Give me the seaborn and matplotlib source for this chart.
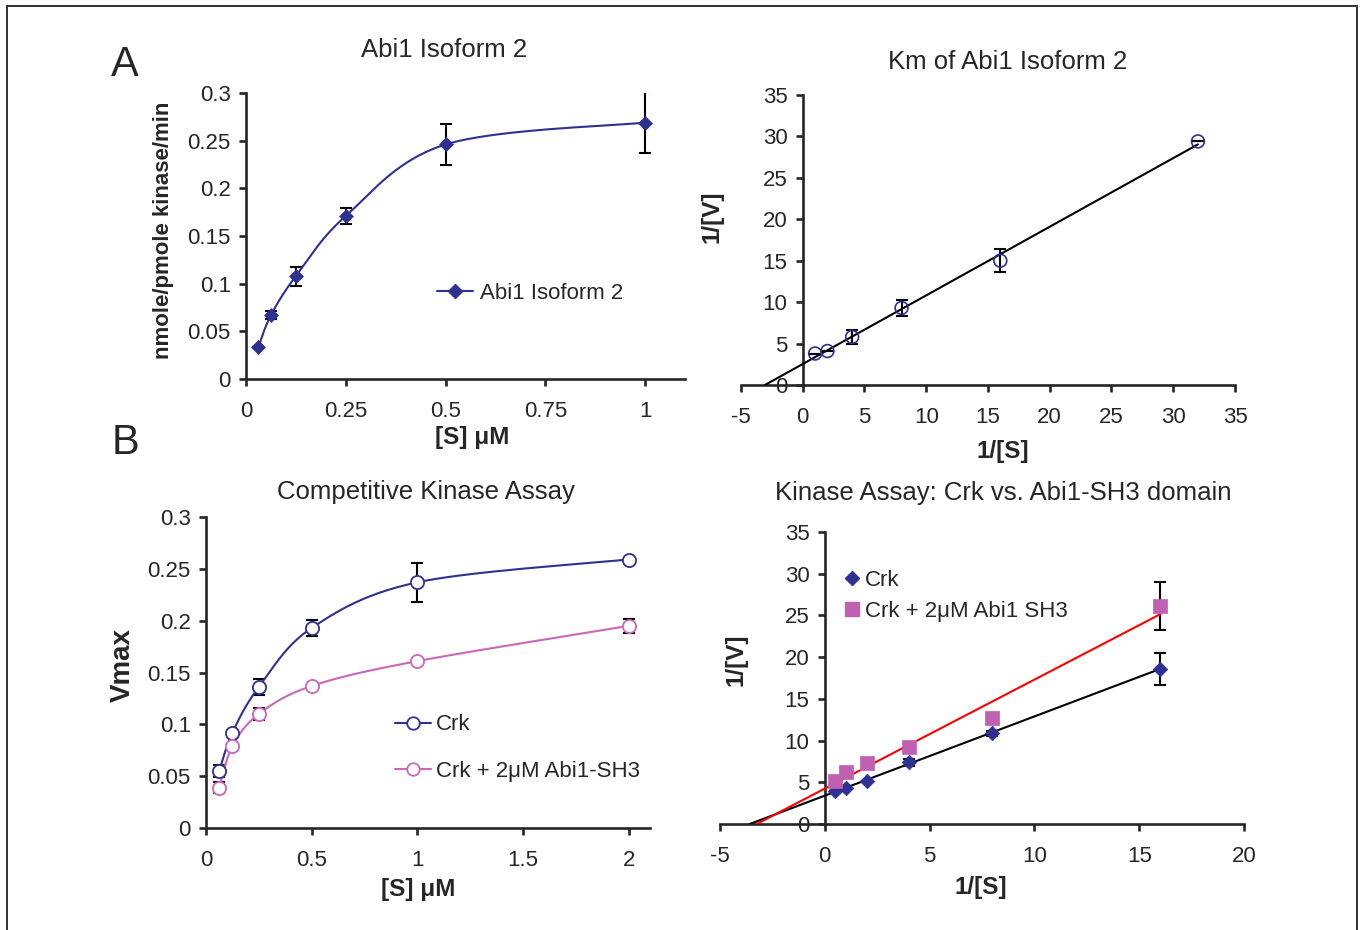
import numpy as np
import pandas as pd
import matplotlib
matplotlib.use('Agg')
import matplotlib.pyplot as plt
import seaborn as sns
from matplotlib.lines import Line2D
from matplotlib.patches import Rectangle

# A left: Abi1 isoform 2 rate vs substrate
abi_s = [0.03125, 0.0625, 0.125, 0.25, 0.5, 1.0]
abi_v = [0.034, 0.067, 0.108, 0.171, 0.246, 0.269]
abi_err = [0.0, 0.004, 0.010, 0.0085, 0.022, 0.032]

# A right: double reciprocal of the same data
abi_inv_s = [1, 2, 4, 8, 16, 32]
abi_inv_v = [3.8, 4.1, 5.8, 9.3, 15.0, 29.4]
abi_inv_err = [0, 0, 0.85, 1.0, 1.4, 0]

# B left: competitive kinase assay
crk_s = [0.0625, 0.125, 0.25, 0.5, 1.0, 2.0]
crk_v = [0.055, 0.092, 0.136, 0.193, 0.237, 0.259]
crk_err = [0.006, 0.0, 0.008, 0.008, 0.019, 0.0]
sh3_v = [0.039, 0.079, 0.110, 0.137, 0.161, 0.195]
sh3_err = [0.005, 0.0, 0.006, 0.0, 0.0, 0.007]

# B right: double reciprocal, Crk vs Crk + Abi1 SH3
crk_inv_s = [0.5, 1, 2, 4, 8, 16]
crk_inv_v = [3.9, 4.3, 5.2, 7.4, 10.9, 18.6]
crk_inv_err = [0, 0, 0, 0.4, 0.3, 1.9]
sh3_inv_v = [5.1, 6.2, 7.3, 9.2, 12.7, 26.1]
sh3_inv_err = [0, 0, 0, 0, 0, 2.9]

NAVY = '#2E3192'
PINK = '#CC66B8'
PINK_SQ = '#C060B0'

sns.set_style('ticks')
plt.rcParams['font.family'] = ['Liberation Sans', 'DejaVu Sans']
plt.rcParams['axes.unicode_minus'] = False
plt.rcParams['axes.linewidth'] = 1.9
plt.rcParams['xtick.major.width'] = 1.9
plt.rcParams['ytick.major.width'] = 1.9
plt.rcParams['xtick.major.size'] = 5
plt.rcParams['ytick.major.size'] = 5
plt.rcParams['xtick.direction'] = 'out'
plt.rcParams['ytick.direction'] = 'out'

W, H = 1360, 930
fig = plt.figure(figsize=(W / 100, H / 100), dpi=100)


def add_axes(x0, x1, y0, y1):
    # pixel box -> figure fraction
    return fig.add_axes([x0 / W, 1 - y1 / H, (x1 - x0) / W, (y1 - y0) / H])


def excel_smooth(ax, x, y, n=40):
    # Catmull-Rom through the points in screen space (like Excel "smoothed line")
    p = ax.transData.transform(np.column_stack([x, y]))
    p = np.vstack([p[0], p, p[-1]])
    t = np.linspace(0, 1, n)[:, None]
    segs = []
    for i in range(1, len(p) - 2):
        p0, p1, p2, p3 = p[i - 1], p[i], p[i + 1], p[i + 2]
        segs.append(0.5 * (2 * p1 + (p2 - p0) * t
                           + (2 * p0 - 5 * p1 + 4 * p2 - p3) * t ** 2
                           + (3 * p1 - p0 - 3 * p2 + p3) * t ** 3))
    out = ax.transData.inverted().transform(np.vstack(segs))
    return pd.DataFrame({'x': out[:, 0], 'y': out[:, 1]})


def fit_line(x, y):
    slope, icpt = np.polyfit(x, y, 1)
    xs = [-icpt / slope, max(x)]
    return pd.DataFrame({'x': xs, 'y': [slope * v + icpt for v in xs]})


def style(ax, fs=16):
    sns.despine(ax=ax)
    ax.tick_params(labelsize=fs, pad=6)
    ax.tick_params(axis='x', pad=11)


def labels(ax, xl, yl, xc, yc, xs=17.5, ys=17.5):
    ax.set_xlabel(xl, fontsize=xs, fontweight='bold', va='center', ha='center')
    ax.set_ylabel(yl, fontsize=ys, fontweight='bold', va='center', ha='center')
    ax.xaxis.set_label_coords(*xc)
    ax.yaxis.set_label_coords(*yc)


def errbars(ax, x, y, e):
    ax.errorbar(x, y, yerr=e, fmt='none', ecolor='black', elinewidth=1.5,
                capsize=4, capthick=1.5, zorder=2)


# ---------------- A left ----------------
ax1 = add_axes(246, 685, 93, 379)
ax1.set_xlim(0, 1.1)
ax1.set_ylim(0, 0.3)
ax1.set_xticks([0, 0.25, 0.5, 0.75, 1])
ax1.set_xticklabels(['0', '0.25', '0.5', '0.75', '1'])
ax1.set_yticks([0, 0.05, 0.1, 0.15, 0.2, 0.25, 0.3])
ax1.set_yticklabels(['0', '0.05', '0.1', '0.15', '0.2', '0.25', '0.3'])
errbars(ax1, abi_s, abi_v, abi_err)
sns.lineplot(data=excel_smooth(ax1, abi_s, abi_v), x='x', y='y', sort=False,
             estimator=None, color=NAVY, linewidth=1.5, ax=ax1, zorder=3)
sns.scatterplot(x=abi_s, y=abi_v, marker='D', s=50, color=NAVY, edgecolor=NAVY,
                linewidth=0.5, ax=ax1, zorder=4)
ax1.legend(handles=[Line2D([], [], color=NAVY, lw=1.5, marker='D', ms=7)],
           labels=['Abi1 Isoform 2'], loc='center left', bbox_to_anchor=(0.435, 0.30),
           frameon=False, fontsize=16, handlelength=1.6, handletextpad=0.35,
           borderpad=0, borderaxespad=0)
ax1.set_title('Abi1 Isoform 2', fontsize=18.5, x=0.451, pad=26)
labels(ax1, '[S] μM', 'nmole/pmole kinase/min', (0.515, -0.206), (-0.189, 0.521), ys=16)
style(ax1)

# ---------------- A right ----------------
ax2 = add_axes(741, 1235, 95, 385)
ax2.set_xlim(-5, 35)
ax2.set_ylim(0, 35)
ax2.set_xticks(range(-5, 36, 5))
ax2.set_yticks(range(0, 36, 5))
errbars(ax2, abi_inv_s, abi_inv_v, abi_inv_err)
sns.lineplot(data=fit_line(abi_inv_s, abi_inv_v), x='x', y='y', color='black',
             linewidth=1.5, ax=ax2, zorder=3)
sns.scatterplot(x=abi_inv_s, y=abi_inv_v, marker='o', s=85, color='none',
                edgecolor=NAVY, linewidth=1.2, ax=ax2, zorder=4)
ax2.set_title('Km of Abi1 Isoform 2', fontsize=18.5, x=0.54, pad=19)
labels(ax2, '1/[S]', '1/[V]', (0.530, -0.231), (-0.059, 0.579))
style(ax2)
ax2.spines['left'].set_position(('data', 0))

# ---------------- B left ----------------
ax3 = add_axes(206, 650, 517, 828)
ax3.set_xlim(0, 2.1)
ax3.set_ylim(0, 0.3)
ax3.set_xticks([0, 0.5, 1, 1.5, 2])
ax3.set_xticklabels(['0', '0.5', '1', '1.5', '2'])
ax3.set_yticks([0, 0.05, 0.1, 0.15, 0.2, 0.25, 0.3])
ax3.set_yticklabels(['0', '0.05', '0.1', '0.15', '0.2', '0.25', '0.3'])
errbars(ax3, crk_s, crk_v, crk_err)
errbars(ax3, crk_s, sh3_v, sh3_err)
for v, c in [(crk_v, NAVY), (sh3_v, PINK)]:
    sns.lineplot(data=excel_smooth(ax3, crk_s, v), x='x', y='y', sort=False,
                 estimator=None, color=c, linewidth=1.5, ax=ax3, zorder=3)
    sns.scatterplot(x=crk_s, y=v, marker='o', s=90, color='white',
                    edgecolor=c, linewidth=1.3, ax=ax3, zorder=4)
ax3.legend(handles=[Line2D([], [], color=NAVY, lw=1.5, marker='o', ms=9, mfc='white', mew=1.3),
                    Line2D([], [], color=PINK, lw=1.5, marker='o', ms=9, mfc='white', mew=1.3)],
           labels=['Crk', 'Crk + 2μM Abi1-SH3'], loc='center left',
           bbox_to_anchor=(0.426, 0.257), frameon=False, fontsize=16,
           handlelength=1.6, handletextpad=0.25, labelspacing=1.15,
           borderpad=0, borderaxespad=0)
ax3.set_title('Competitive Kinase Assay', fontsize=18.5, x=0.495, pad=13)
labels(ax3, '[S] μM', 'Vmax', (0.477, -0.199), (-0.187, 0.524), ys=20)
style(ax3)

# ---------------- B right ----------------
ax4 = add_axes(720, 1244, 532, 824)
ax4.set_xlim(-5, 20)
ax4.set_ylim(0, 35)
ax4.set_xticks(range(-5, 21, 5))
ax4.set_yticks(range(0, 36, 5))
errbars(ax4, crk_inv_s, crk_inv_v, crk_inv_err)
errbars(ax4, crk_inv_s, sh3_inv_v, sh3_inv_err)
sns.lineplot(data=fit_line(crk_inv_s, crk_inv_v), x='x', y='y', color='black',
             linewidth=1.5, ax=ax4, zorder=3)
sns.lineplot(data=fit_line(crk_inv_s, sh3_inv_v), x='x', y='y', color='red',
             linewidth=1.5, ax=ax4, zorder=3)
sns.scatterplot(x=crk_inv_s, y=crk_inv_v, marker='D', s=55, color=NAVY,
                edgecolor=NAVY, linewidth=0.5, ax=ax4, zorder=4)
sns.scatterplot(x=crk_inv_s, y=sh3_inv_v, marker='s', s=110, color=PINK_SQ,
                edgecolor=PINK_SQ, linewidth=0.5, ax=ax4, zorder=4)
ax4.legend(handles=[Line2D([], [], ls='none', marker='D', ms=7, color=NAVY),
                    Line2D([], [], ls='none', marker='s', ms=10, color=PINK_SQ)],
           labels=['Crk', 'Crk + 2μM Abi1 SH3'], loc='center left',
           bbox_to_anchor=(0.235, 0.78), frameon=False, fontsize=16,
           handlelength=0.8, handletextpad=0.2, labelspacing=0.45,
           borderpad=0, borderaxespad=0)
ax4.set_title('Kinase Assay: Crk vs. Abi1-SH3 domain', fontsize=18.5, x=0.54, pad=23)
labels(ax4, '1/[S]', '1/[V]', (0.498, -0.219), (0.031, 0.562))
style(ax4)
ax4.spines['left'].set_position(('data', 0))

# panel letters and outer frame
fig.text(125 / W, 1 - 65 / H, 'A', fontsize=30, ha='center', va='center')
fig.text(125 / W, 1 - 443 / H, 'B', fontsize=30, ha='center', va='center')
fig.add_artist(Rectangle((7 / W, -0.01), (1357 - 7) / W, 1.01 - 6 / H,
                         transform=fig.transFigure, fill=False,
                         edgecolor='#222222', linewidth=1.3))

fig.savefig('out.png', dpi=100)
